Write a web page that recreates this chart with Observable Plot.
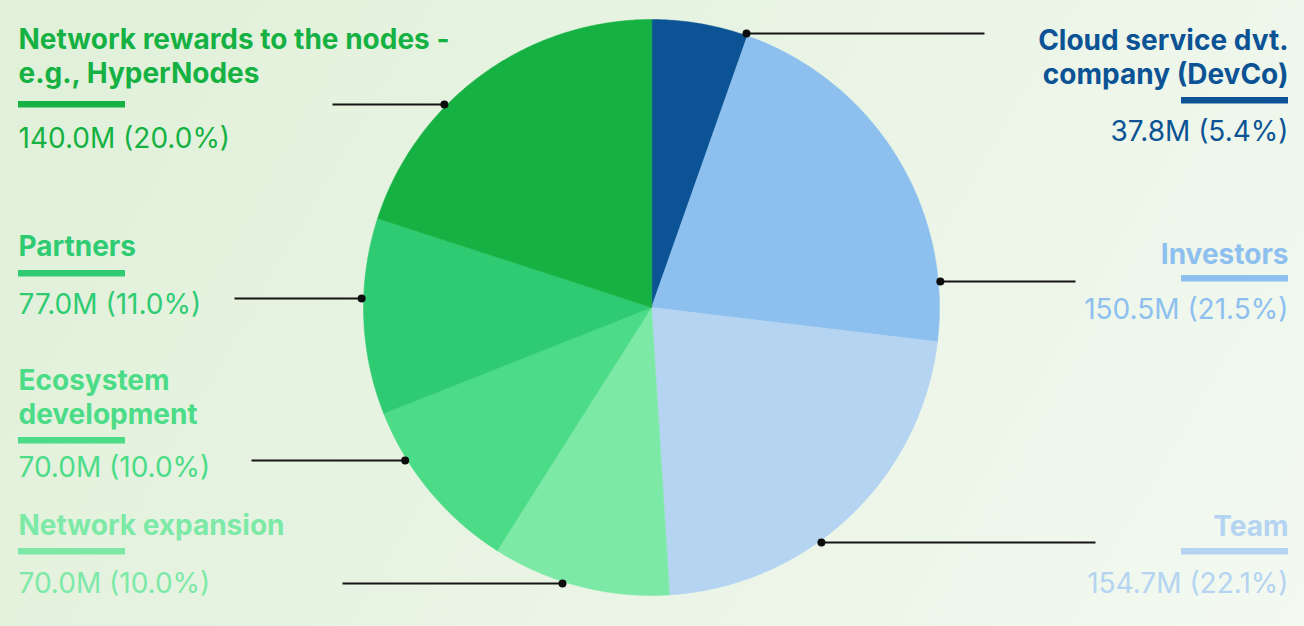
<!DOCTYPE html>
<html>
<head>
<meta charset="utf-8">
<script src="https://cdn.jsdelivr.net/npm/d3@7"></script>
<script src="https://cdn.jsdelivr.net/npm/@observablehq/plot@0.6"></script>
<style>
  html, body { margin: 0; padding: 0; }
  body {
    width: 1304px; height: 626px; overflow: hidden;
    background: linear-gradient(120deg, #e0f0d9 0%, #e9f4e4 50%, #f3f9f1 100%);
    font-family: Inter, "Noto Sans", sans-serif;
  }
  #chart svg { display: block; background: transparent; }
</style>
</head>
<body>
<div id="chart"></div>
<script>
// ---- Data (clockwise from 12 o'clock) ----
const categories = [
  "Cloud service dvt.\ncompany (DevCo)",
  "Investors",
  "Team",
  "Network expansion",
  "Ecosystem\ndevelopment",
  "Partners",
  "Network rewards to the nodes -\ne.g., HyperNodes"
];
const valuesM = [37.8, 150.5, 154.7, 70.0, 70.0, 77.0, 140.0];
const percents = [5.4, 21.5, 22.1, 10.0, 10.0, 11.0, 20.0];
const colors = ["#0b5394", "#8dc0ef", "#b4d4f1", "#7de9a7", "#4cdc87", "#2fcb72", "#16b143"];

// ---- Layout (positions in px of the 1304x626 frame) ----
const W = 1304, H = 626;
const cx = 651, cy = 307, R = 288, Rdot = 290;
const side        = ["right", "right", "right", "left", "left", "left", "left"];
const titleBase   = [83, 263, 535, 534, 423, 255, 82];   // baseline of last title line
const barTop      = [97, 275, 548, 548, 437, 270, 101];
const valueBase   = [140, 318, 592, 592, 476, 313, 147];
const leaderY     = [33, 281, 542, 583, 460, 298, 104];
const leaderEndX  = [984, 1075, 1095, 342, 251, 234, 332];
const leftX = 18, rightX = 1288, barLen = 107, barH = 6.5;

// ---- Pie geometry via d3.pie ----
const arcs = d3.pie().sort(null).startAngle(0).endAngle(2 * Math.PI)(valuesM);
const polyPts = [];
arcs.forEach((a, i) => {
  polyPts.push({k: i, x: cx, y: cy, c: colors[i]});
  const n = Math.max(8, Math.ceil((a.endAngle - a.startAngle) * 120));
  for (let j = 0; j <= n; ++j) {
    const t = a.startAngle + (a.endAngle - a.startAngle) * j / n;
    polyPts.push({k: i, x: cx + R * Math.sin(t), y: cy - R * Math.cos(t), c: colors[i]});
  }
});

// ---- Labels ----
const labels = categories.map((c, i) => {
  const right = side[i] === "right";
  const dy = leaderY[i] - cy;
  const dx = Math.sqrt(Math.max(0, Rdot * Rdot - dy * dy));
  return {
    title: c,
    value: `${valuesM[i].toFixed(1)}M (${percents[i].toFixed(1)}%)`,
    color: colors[i],
    tx: right ? rightX : leftX,
    ty: titleBase[i],
    vy: valueBase[i],
    bx1: right ? rightX - barLen : leftX,
    bx2: right ? rightX : leftX + barLen,
    by1: barTop[i],
    by2: barTop[i] + barH,
    dotX: right ? cx + dx : cx - dx,
    dotY: leaderY[i],
    endX: leaderEndX[i]
  };
});
const rightLabels = labels.filter((d, i) => side[i] === "right");
const leftLabels = labels.filter((d, i) => side[i] === "left");

const FS = 28;
const chart = Plot.plot({
  width: W,
  height: H,
  margin: 0,
  x: {domain: [0, W], range: [0, W], axis: null},
  y: {domain: [0, H], range: [0, H], axis: null},
  color: {type: "identity"},
  style: {fontFamily: "Inter, 'Noto Sans', sans-serif", background: "transparent", overflow: "visible"},
  marks: [
    Plot.line(polyPts, {x: "x", y: "y", z: "k", fill: "c", stroke: "c", strokeWidth: 0.5, curve: "linear-closed"}),
    Plot.link(labels, {x1: "dotX", y1: "dotY", x2: "endX", y2: "dotY", stroke: "#151515", strokeWidth: 2}),
    Plot.dot(labels, {x: "dotX", y: "dotY", r: 4, fill: "#0d0d0d", stroke: "none"}),
    Plot.rect(labels, {x1: "bx1", x2: "bx2", y1: "by1", y2: "by2", fill: "color"}),
    Plot.text(rightLabels, {x: "tx", y: "ty", text: "title", textAnchor: "end", lineAnchor: "bottom", lineHeight: 1.19, fontSize: FS, fontWeight: 700, fill: "color"}),
    Plot.text(leftLabels, {x: "tx", y: "ty", text: "title", textAnchor: "start", lineAnchor: "bottom", lineHeight: 1.19, fontSize: FS, fontWeight: 700, fill: "color"}),
    Plot.text(rightLabels, {x: "tx", y: "vy", text: "value", textAnchor: "end", lineAnchor: "bottom", fontSize: FS, fontWeight: 400, fill: "color"}),
    Plot.text(leftLabels, {x: "tx", y: "vy", text: "value", textAnchor: "start", lineAnchor: "bottom", fontSize: FS, fontWeight: 400, fill: "color"})
  ]
});
document.getElementById("chart").appendChild(chart);
</script>
</body>
</html>
